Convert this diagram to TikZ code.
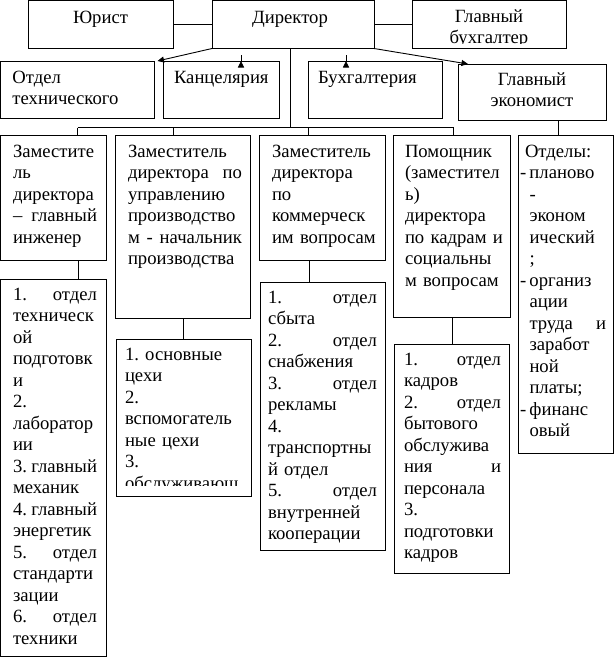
\documentclass[tikz,border=0pt]{standalone}
\usepackage{fontspec}
\setmainfont{Liberation Serif}
\usetikzlibrary{arrows.meta,calc}
\newcommand\fs{\fontsize{18.67}{21.5}\selectfont}
\setlength{\parindent}{0pt}
\begin{document}
\begin{tikzpicture}[x=1pt,y=-1pt,
 box/.style={draw,line width=1pt,inner sep=0pt,outer sep=0pt,anchor=north west},
 txt/.style={inner sep=0pt,outer sep=0pt,anchor=north west,align=left,font=\fs},
 ctxt/.style={inner sep=0pt,outer sep=0pt,anchor=north,align=center,font=\fs},
 link/.style={line width=1pt},
 arr/.style={line width=0.9pt,-{Triangle[length=6.5pt,width=6pt]}}]
\useasboundingbox (0,0) rectangle (615,657);
% boxes
\node[box,minimum width=145pt,minimum height=48pt] (jur) at (28,0.5) {};
\node[box,minimum width=162pt,minimum height=48pt] (dir) at (212,0.5) {};
\node[box,minimum width=154pt,minimum height=48pt] (gb) at (412,0.5) {};
\node[box,minimum width=154pt,minimum height=57pt] (otd) at (0.5,61) {};
\node[box,minimum width=116pt,minimum height=57pt] (kanc) at (163,61) {};
\node[box,minimum width=134pt,minimum height=57pt] (buh) at (308,61) {};
\node[box,minimum width=148pt,minimum height=56pt] (ekon) at (458,64) {};
\node[box,minimum width=105.5pt,minimum height=125pt] (c1) at (0.5,135) {};
\node[box,minimum width=135pt,minimum height=183pt] (c2) at (115,135) {};
\node[box,minimum width=126pt,minimum height=125pt] (c3) at (259,135) {};
\node[box,minimum width=117pt,minimum height=182pt] (c4) at (393,135) {};
\node[box,minimum width=95pt,minimum height=318pt] (c5) at (518,135) {};
\node[box,minimum width=105.5pt,minimum height=377pt] (l1) at (0.5,279) {};
\node[box,minimum width=135pt,minimum height=157pt] (l2) at (116,339) {};
\node[box,minimum width=125pt,minimum height=268pt] (l3) at (260,282) {};
\node[box,minimum width=115pt,minimum height=229pt] (l4) at (394,344) {};
% texts
\node[ctxt] (jurt) at ($(jur.north)+(0,7.5)$) {\strut Юрист};
\node[ctxt] (dirt) at ($(dir.north)+(-3,7.5)$) {\strut Директор};
\begin{scope}
\clip (412,0) rectangle (566,43);
\node[ctxt] (gbt) at ($(gb.north)+(0,6.5)$) {\strut Главный\\бухгалтер};
\end{scope}
\node[txt] (otdt) at ($(otd.north west)+(12,7)$) {\strut Отдел\\технического};
\node[txt] (kanct) at ($(kanc.north west)+(11,7)$) {\strut Канцелярия};
\node[txt] (buht) at ($(buh.north west)+(10,7)$) {\strut Бухгалтерия};
\node[ctxt] (ekont) at ($(ekon.north)+(0,6)$) {\strut Главный\\экономист};
\node[txt,text width=84pt] (c1t) at ($(c1.north west)+(12.5,7)$)
 {\strut Заместите\\ль\\директора\\–\hfill главный\\инженер};
\node[txt,text width=114pt] (c2t) at ($(c2.north west)+(13,7)$)
 {\strut Заместитель\\директора\hfill по\\управлению\\производство\\м\hfill -\hfill начальник\\производства};
\node[txt,text width=105pt] (c3t) at ($(c3.north west)+(13,7)$)
 {\strut Заместитель\\директора\\по\\коммерческ\\им~вопросам};
\node[txt,text width=97pt] (c4t) at ($(c4.north west)+(12,7)$)
 {\strut Помощник\\(заместител\\ь)\\директора\\по~кадрам~и\\социальны\\м~вопросам};
\node[txt,text width=86pt] (c5t) at ($(c5.north west)+(2,7)$)
 {\strut\hspace*{5pt}Отделы:\\\makebox[9.5pt][l]{-}планово\\\hspace*{9.5pt}-\\\hspace*{9.5pt}эконом\\\hspace*{9.5pt}ический\\\hspace*{9.5pt};\\\makebox[9.5pt][l]{-}организ\\\hspace*{9.5pt}ации\\\hspace*{9.5pt}труда\hfill и\\\hspace*{9.5pt}заработ\\\hspace*{9.5pt}ной\\\hspace*{9.5pt}платы;\\\makebox[9.5pt][l]{-}финанс\\\hspace*{9.5pt}овый};
\node[txt,text width=84pt] (l1t) at ($(l1.north west)+(12.5,6)$)
 {\strut 1.\hfill отдел\\техническ\\ой\\подготовк\\и\\2.\\лаборатор\\ии\\3.\hfill главный\\механик\\4.\hfill главный\\энергетик\\5.\hfill отдел\\стандарти\\зации\\6.\hfill отдел\\техники};
\begin{scope}
\clip (116,339) rectangle (251,485.5);
\node[txt,text width=114pt] (l2t) at ($(l2.north west)+(9,6)$)
 {\strut 1.~основные\\цехи\\2.\\вспомогатель\\ные~цехи\\3.\\обслуживающ};
\end{scope}
\node[txt,text width=109pt] (l3t) at ($(l3.north west)+(8,6)$)
 {\strut 1.\hfill отдел\\сбыта\\2.\hfill отдел\\снабжения\\3.\hfill отдел\\рекламы\\4.\\транспортны\\й~отдел\\5.\hfill отдел\\внутренней\\кооперации};
\node[txt,text width=97pt] (l4t) at ($(l4.north west)+(10,6)$)
 {\strut 1.\hfill отдел\\кадров\\2.\hfill отдел\\бытового\\обслужива\\ния\hfill и\\персонала\\3.\\подготовки\\кадров};
% connectors
\draw[link] (jur.east) -- (dir.west);
\draw[link] (dir.east) -- (gb.west);
\draw[arr] (dir.south west) -- ($(otd.north east)+(3,0)$);
\draw[arr] ($(kanc.north west)+(78,0)$ |- dir.south) -- ($(kanc.north west)+(78,0)$);
\draw[arr] ($(buh.north west)+(38,0)$ |- dir.south) -- ($(buh.north west)+(38,0)$);
\draw[arr] (dir.south east) -- ($(ekon.north west)+(10,0)$);
\coordinate (b0) at (290,127.5);
\coordinate (b1) at (77.5,127.5);
\coordinate (b2) at (173.5,127.5);
\coordinate (b3) at (308.5,127.5);
\coordinate (b4) at (453.5,127.5);
\draw[link] (b0 |- dir.south) -- (b0);
\draw[link] (b1) -- (b4);
\draw[link] (b1) -- (b1 |- c1.north);
\draw[link] (b2) -- (b2 |- c2.north);
\draw[link] (b3) -- (b3 |- c3.north);
\draw[link] (b4) -- (b4 |- c4.north);
\draw[link] (558.5,0 |- ekon.south) -- (558.5,0 |- c5.north);
\draw[link] (78.5,0 |- c1.south) -- (78.5,0 |- l1.north);
\draw[link] (183.5,0 |- c2.south) -- (183.5,0 |- l2.north);
\draw[link] (309.5,0 |- c3.south) -- (309.5,0 |- l3.north);
\draw[link] (452.5,0 |- c4.south) -- (452.5,0 |- l4.north);
\end{tikzpicture}
\end{document}
